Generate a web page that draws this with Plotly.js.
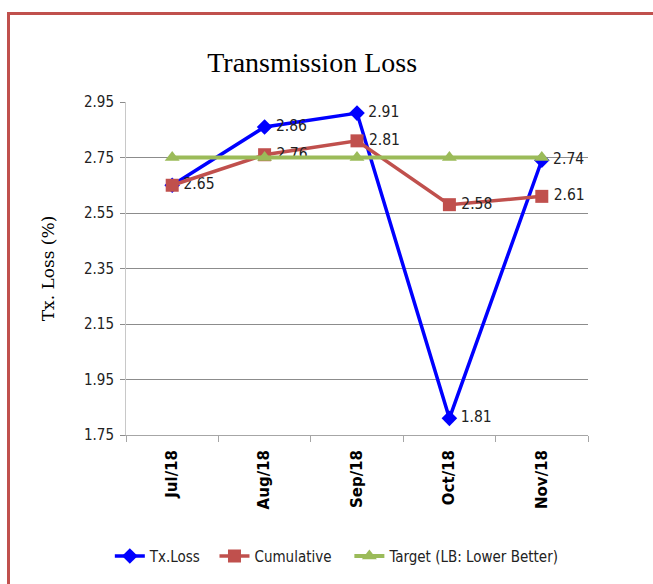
<!DOCTYPE html>
<html><head><meta charset="utf-8">
<script src="https://cdn.plot.ly/plotly-3.0.1.min.js"></script>
<style>
html,body{margin:0;padding:0;background:#fff;}
#wrap{position:relative;width:653px;height:584px;overflow:hidden;}
#chart{position:absolute;left:0;top:0;width:653px;height:584px;}
#frame{position:absolute;left:7px;top:12px;width:700px;height:700px;border-left:3px solid #C0504D;border-top:3px solid #C0504D;pointer-events:none;}
</style></head>
<body><div id="wrap"><div id="chart"></div><div id="frame"></div></div>
<script>
const months = ["Jul/18","Aug/18","Sep/18","Oct/18","Nov/18"];
const txLoss = [2.65, 2.86, 2.91, 1.81, 2.74];
const cumulative = [2.65, 2.76, 2.81, 2.58, 2.61];
const target = [2.75, 2.75, 2.75, 2.75, 2.75];
const yTicks = [1.75, 1.95, 2.15, 2.35, 2.55, 2.75, 2.95];

const narrow = "DejaVu Sans Condensed, Liberation Sans Narrow, Roboto, sans-serif";
const labelFont = {family: narrow, size: 15.5, color: "#222"};

const txText = txLoss.map(v => "\u2009" + v.toFixed(2));
// where the cumulative value coincides with Tx.Loss only one label is shown
const cumText = cumulative.map((v, i) => v === txLoss[i] ? "" : "\u2009" + v.toFixed(2));

const traces = [
  {x: months, y: txLoss, name: "Tx.Loss\u00a0\u00a0", type: "scatter", mode: "lines+markers+text",
   line: {color: "#0000FF", width: 3.5}, marker: {symbol: "diamond", size: 12, color: "#0000FF"},
   text: txText, textposition: "middle right", textfont: labelFont, cliponaxis: false},
  {x: months, y: cumulative, name: "Cumulative\u00a0\u00a0\u00a0", type: "scatter", mode: "lines+markers+text",
   line: {color: "#C0504D", width: 3.5}, marker: {symbol: "square", size: 13, color: "#C0504D"},
   text: cumText, textposition: "middle right", textfont: labelFont, cliponaxis: false},
  {x: months, y: target, name: "Target (LB: Lower Better)", type: "scatter", mode: "lines+markers",
   line: {color: "#9BBB59", width: 4}, marker: {symbol: "triangle-up", size: 13, color: "#9BBB59"}, cliponaxis: false}
];

const layout = {
  width: 653, height: 584,
  margin: {l: 126, r: 65, t: 102, b: 148},
  paper_bgcolor: "#fff", plot_bgcolor: "#fff",
  showlegend: true,
  title: {text: "Transmission Loss", font: {family: "Liberation Serif, Times New Roman, serif", size: 28, color: "#000"},
          x: 0.478, xanchor: "center", y: 0.893, yanchor: "middle"},
  xaxis: {type: "category", range: [-0.5, 4.5], tickangle: -90,
          tickfont: {family: "DejaVu Sans", size: 15, color: "#000", weight: "bold"},
          showline: true, linecolor: "#A6A6A6", linewidth: 1, showgrid: false, ticklabelstandoff: 8,
          ticks: "outside", tickson: "boundaries", ticklen: 6, tickcolor: "#A6A6A6", zeroline: false},
  yaxis: {range: [1.75, 2.95], tickvals: yTicks, ticktext: yTicks.map(v => v.toFixed(2)),
          tickfont: {family: narrow, size: 15, color: "#222"}, ticklabelstandoff: 3,
          showgrid: true, gridcolor: "#8C8C8C", gridwidth: 1,
          showline: true, linecolor: "#C8C8C8", linewidth: 1,
          ticks: "outside", ticklen: 5, tickcolor: "#8C8C8C", zeroline: false,
          title: {text: "Tx. Loss (%)", font: {family: "DejaVu Serif, Liberation Serif, serif", size: 17, color: "#000"}, standoff: 25}},
  legend: {orientation: "h", x: -0.035, xanchor: "left", y: -0.36, yanchor: "middle",
           font: {family: narrow, size: 15, color: "#222"}, itemwidth: 30, tracegroupgap: 0}
};

Plotly.newPlot("chart", traces, layout, {displayModeBar: false, staticPlot: true});
</script></body></html>
